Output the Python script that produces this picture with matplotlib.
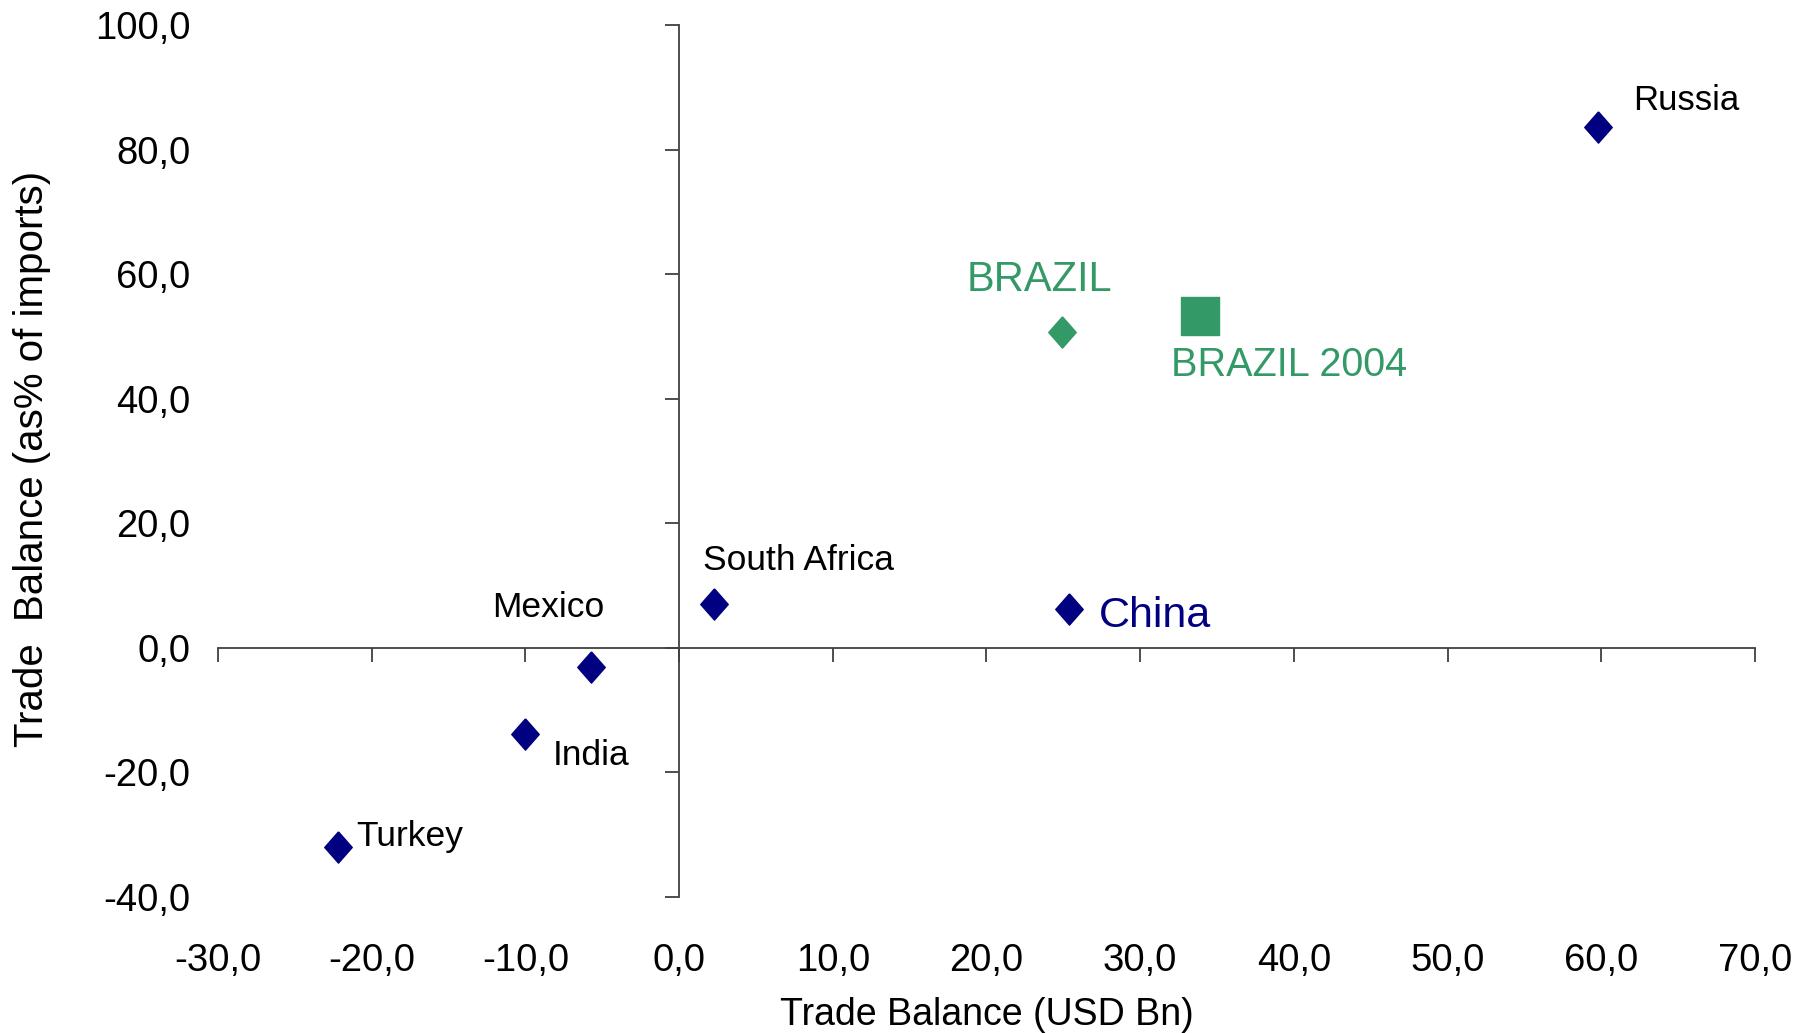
import matplotlib
matplotlib.use('Agg')
import matplotlib.pyplot as plt
import numpy as np

plt.rcParams['font.family'] = ['Liberation Sans', 'DejaVu Sans']

# data
countries = ['Russia', 'China', 'South Africa', 'Mexico', 'India', 'Turkey']
balance_usd = [59.8, 25.4, 2.3, -5.7, -10.0, -22.2]
balance_pct = [83.6, 6.3, 7.0, -3.0, -13.8, -31.9]

brazil_usd = [24.9]
brazil_pct = [50.7]
brazil04_usd = [33.9]
brazil04_pct = [53.3]

xticks = np.arange(-30, 71, 10)
yticks = np.arange(-40, 101, 20)

NAVY = '#000080'
GREEN = '#339966'
AXIS = '#404040'

# label placement (offset points, alignment, size, colour)
label_style = {
    'Russia': ((25, 19.5), 'left', 25, 'black'),
    'China': ((21, -5), 'left', 31, NAVY),
    'South Africa': ((-8, 31.5), 'left', 25.5, 'black'),
    'Mexico': ((-31, 42.5), 'center', 25.5, 'black'),
    'India': ((20, -15.5), 'left', 25.5, 'black'),
    'Turkey': ((13, 7.5), 'left', 25.5, 'black'),
}

# diamond a bit narrower than tall, like the original
diamond = [(0, 1), (0.88, 0), (0, -1), (-0.88, 0), (0, 1)]


def fmt(v):
    return '%.1f' % v


if __name__ == "__main__":
    fig = plt.figure(figsize=(18, 10.33), dpi=100)
    pos = [0.1211, 0.1317, 0.8539, 0.8438]

    # axes only for the tick labels on the outer edge
    lab = fig.add_axes(pos)
    lab.set_xlim(-30, 70)
    lab.set_ylim(-40, 100)
    lab.set_xticks(xticks)
    lab.set_yticks(yticks)
    lab.set_xticklabels([fmt(v).replace('.', ',') for v in xticks])
    lab.set_yticklabels([fmt(v).replace('.', ',') for v in yticks])
    lab.tick_params(length=0, labelsize=27.5)
    lab.tick_params(axis='x', pad=33)
    lab.tick_params(axis='y', pad=20)
    for s in lab.spines.values():
        s.set_visible(False)
    lab.patch.set_visible(False)
    lab.set_xlabel('Trade Balance (USD Bn)', fontsize=27, labelpad=13)
    lab.set_ylabel('Trade  Balance (as% of imports)', fontsize=29,
                   va='center')
    lab.yaxis.set_label_coords(-0.121, 0.502)

    # axes crossing at zero
    ax = fig.add_axes(pos)
    ax.patch.set_visible(False)
    ax.set_xlim(-30, 70)
    ax.set_ylim(-40, 100)
    ax.set_xticks(xticks)
    ax.set_yticks(yticks)
    ax.spines['left'].set_position(('data', 0))
    ax.spines['bottom'].set_position(('data', 0))
    ax.spines['top'].set_visible(False)
    ax.spines['right'].set_visible(False)
    for s in ('left', 'bottom'):
        ax.spines[s].set_color(AXIS)
        ax.spines[s].set_linewidth(1.3)
    ax.tick_params(direction='out', length=10, width=1.3, color=AXIS,
                   labelleft=False, labelbottom=False)

    ax.scatter(balance_usd, balance_pct, marker=diamond, s=22.5 ** 2,
               color=NAVY, zorder=3, clip_on=False)
    ax.scatter(brazil_usd, brazil_pct, marker=diamond, s=22.5 ** 2,
               color=GREEN, zorder=3)
    ax.scatter(brazil04_usd, brazil04_pct, marker='s', s=27 ** 2,
               color=GREEN, zorder=3)

    for name, x, y in zip(countries, balance_usd, balance_pct):
        off, ha, size, col = label_style[name]
        ax.annotate(name, (x, y), xytext=off, textcoords='offset points',
                    ha=ha, va='center', fontsize=size, color=col)

    ax.annotate('BRAZIL', (brazil_usd[0], brazil_pct[0]), xytext=(-16, 37.5),
                textcoords='offset points', ha='center', va='center',
                fontsize=30, color=GREEN)
    ax.annotate('BRAZIL 2004', (brazil04_usd[0], brazil04_pct[0]),
                xytext=(-21, -35.5), textcoords='offset points', ha='left',
                va='center', fontsize=28.5, color=GREEN)

    fig.savefig('out.png', dpi=100)
